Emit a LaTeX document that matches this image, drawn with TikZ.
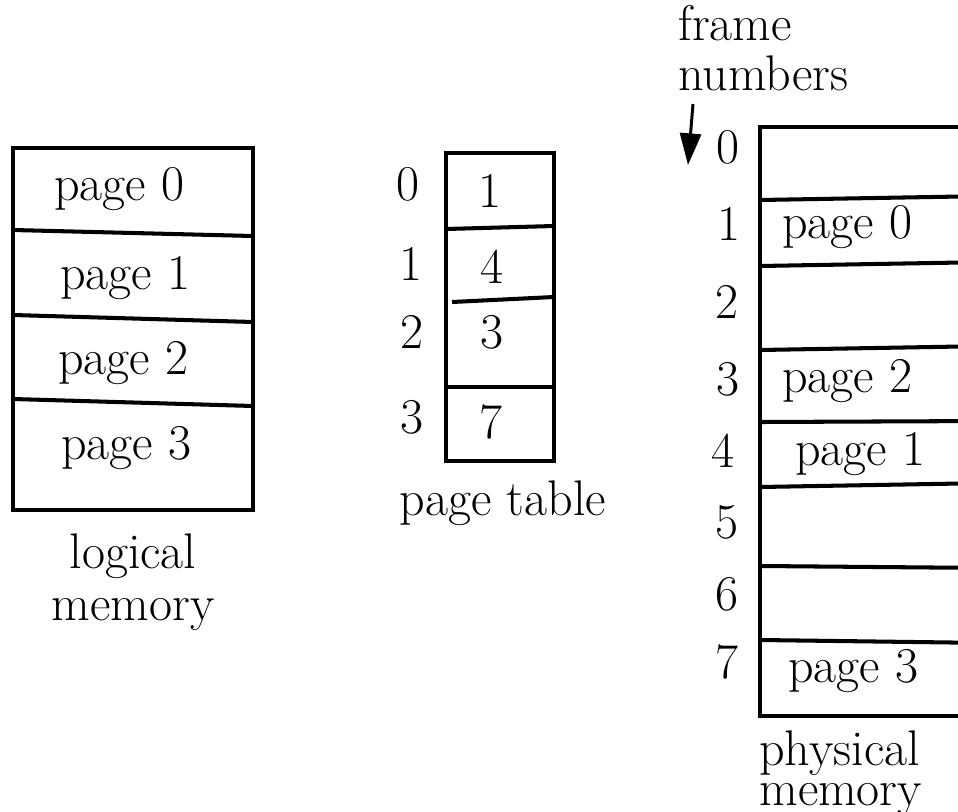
\documentclass[tikz,border=0pt]{standalone}
\usetikzlibrary{arrows.meta}
\begin{document}
\begin{tikzpicture}[x=0.02cm,y=-0.02cm,
  box/.style={line width=2.3pt},
  lbl/.style={font=\fontsize{28.5}{28}\selectfont, inner sep=0pt, anchor=base},
  lcaption/.style={font=\fontsize{28.5}{28}\selectfont, inner sep=0pt, anchor=base west, align=left},
  ccaption/.style={font=\fontsize{28.5}{28}\selectfont, inner sep=0pt, anchor=base, align=center}]
\useasboundingbox (0,0) rectangle (958,812);
\clip (0,0) rectangle (958,812);
% logical memory
\draw[box] (13,148) rectangle (253,510);
\draw[box] (13,230) -- (253,236);
\draw[box] (13,315) -- (253,322);
\draw[box] (13,399) -- (253,406);
\node[lbl] (l0) at (119,200) {page 0};
\node[lbl] (l1) at (125,289) {page 1};
\node[lbl] (l2) at (123,374) {page 2};
\node[lbl] (l3) at (126,459) {page 3};
\node[ccaption] (lcap) at (133,620) {logical\\[1.5pt]memory};
% page table
\draw[box] (446,153) rectangle (554,461);
\draw[box] (446,229) -- (554,226);
\draw[box] (452,302) -- (554,297);
\draw[box] (446,387) -- (554,387);
\node[lbl] (i0) at (408,200) {0};
\node[lbl] (i1) at (411,280) {1};
\node[lbl] (i2) at (412,348) {2};
\node[lbl] (i3) at (412,433) {3};
\node[lbl] (v0) at (490,207) {1};
\node[lbl] (v1) at (492,283) {4};
\node[lbl] (v2) at (492,348) {3};
\node[lbl] (v3) at (491,438) {7};
\node[lbl] (ptcap) at (503,515) {page table};
% physical memory
\draw[box] (990,127) -- (760,127) -- (760,716) -- (990,716);
\draw[box] (760,200) -- (990,196);
\draw[box] (760,266) -- (990,262);
\draw[box] (760,350) -- (990,346);
\draw[box] (760,422) -- (990,421);
\draw[box] (760,487) -- (990,483);
\draw[box] (760,566) -- (990,568);
\draw[box] (760,640) -- (990,643);
\node[lbl] (f0) at (728,163) {0};
\node[lbl] (f1) at (729,240) {1};
\node[lbl] (f2) at (727,318) {2};
\node[lbl] (f3) at (728,395) {3};
\node[lbl] (f4) at (723,467) {4};
\node[lbl] (f5) at (727,538) {5};
\node[lbl] (f6) at (727,610) {6};
\node[lbl] (f7) at (727,678) {7};
\node[lbl] (p0) at (847,238) {page 0};
\node[lbl] (p2) at (847,392) {page 2};
\node[lbl] (p1) at (860,465) {page 1};
\node[lbl] (p3) at (853,682) {page 3};
\node[lcaption] (fcap) at (678,90) {frame\\[0.3pt]numbers};
\node[lcaption] (pcap) at (759,805) {physical\\[-5.3pt]memory};
\coordinate (as) at (693,104);
\coordinate (ae) at (688,165);
\draw[line width=1.7pt,-{Triangle[length=18pt,width=12pt]}] (as) -- (ae);
\end{tikzpicture}
\end{document}
